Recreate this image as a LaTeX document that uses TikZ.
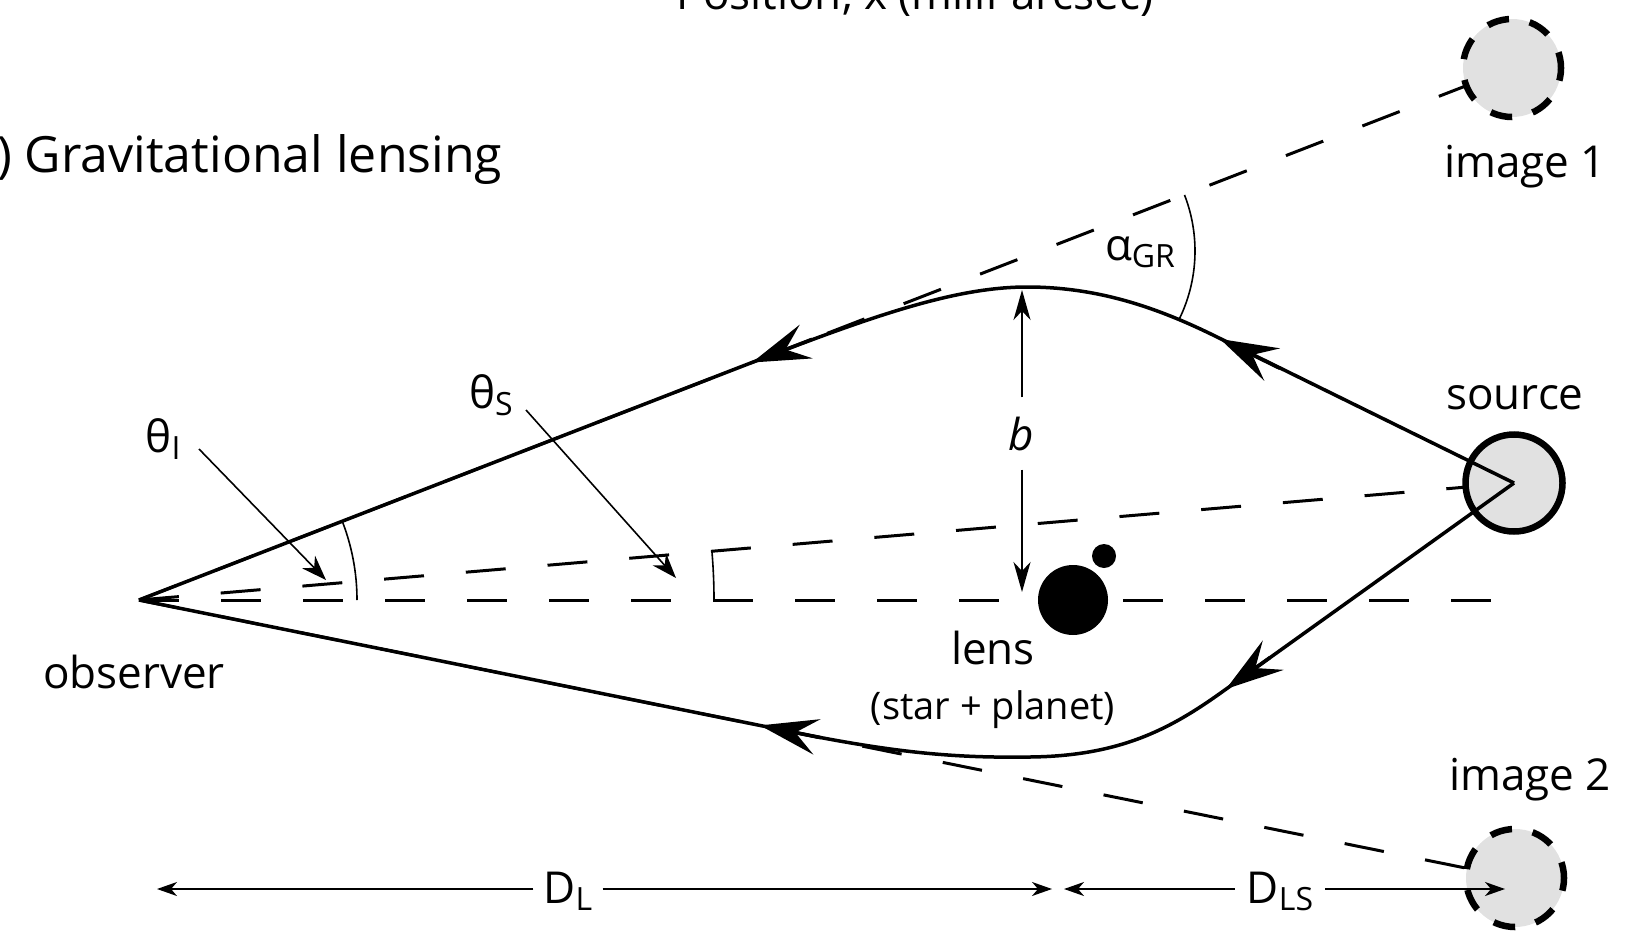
\documentclass[tikz,border=0pt]{standalone}
\usepackage{fontspec}
\setmainfont{Open Sans}
\usetikzlibrary{arrows.meta}
\definecolor{imgfill}{HTML}{E1E1E1}
\newcommand\labfont{\fontsize{44}{52}\selectfont}
\newcommand\smallfont{\fontsize{38}{44}\selectfont}
\newcommand\titlefont{\fontsize{50}{58}\selectfont}
\newcommand\lowsub[1]{\raisebox{-7pt}{\fontsize{32}{36}\selectfont #1}}
\begin{document}
\begin{tikzpicture}[x=1pt,y=-1pt,
  ray/.style={line width=3.5pt, line join=round},
  dashline/.style={line width=3pt, dash pattern=on 40pt off 42pt},
  thinline/.style={line width=1.6pt},
  bigtip/.style={line width=3.5pt, -{Stealth[length=58pt,width=36pt,inset=22pt]}},
  ptrtip/.style={thinline, -{Stealth[length=25pt,width=18pt,inset=8pt]}},
  btip/.style={thinline, -{Stealth[length=30pt,width=17pt,inset=9pt]}},
  dtip/.style={thinline, -{Stealth[length=20pt,width=14pt,inset=6pt]}},
  lab/.style={font=\labfont, inner sep=0pt},
  imgcirc/.style={circle, fill=imgfill, draw, line width=6.5pt, dash pattern=on 22pt off 21pt, dash phase=6pt, minimum size=98pt, inner sep=0pt},
  srccirc/.style={circle, fill=imgfill, draw, line width=6.5pt, minimum size=97pt, inner sep=0pt},
  lensbody/.style={circle, fill=black, inner sep=0pt}]
\useasboundingbox (0,0) rectangle (1635,931);

% key points
\coordinate (O) at (139,600);
\coordinate (axisEnd) at (1498,600);
\coordinate (I1c) at (1512,68);
\coordinate (I2c) at (1515,878);
\coordinate (Sc) at (1514,483);

% dashed sight lines
\draw[dashline] (O) -- (I1c);
\draw[dashline] (O) -- (Sc);
\draw[dashline] (O) -- (axisEnd);
\draw[dashline] (O) -- (I2c);

% images and source
\node[imgcirc] (I1) at (I1c) {};
\node[imgcirc] (I2) at (I2c) {};
\node[srccirc] (S) at (Sc) {};

% lens
\node[lensbody, minimum size=70pt] (lens) at (1073,600) {};
\node[lensbody, minimum size=24pt] (planet) at (1104,556) {};

% light rays
\coordinate (peak) at (1027,287);
\coordinate (trough) at (1030,757);
\draw[ray] (O) -- (700,382.6) .. controls (850,324.5) and (945,287) .. (peak)
  .. controls (1100,287) and (1160,309) .. (1215,336) -- (S.center);
\draw[ray] (O) -- (790,731.5) .. controls (900,754) and (960,758) .. (trough)
  .. controls (1120,756) and (1170,729.2) .. (1222,692) -- (S.center);

% arrowheads on rays
\coordinate (ulB) at (812,339.3); \coordinate (ulT) at (752,362.5);
\coordinate (urB) at (1280,368.4); \coordinate (urT) at (1220,339);
\coordinate (llB) at (820,737.5); \coordinate (llT) at (760,725.4);
\coordinate (lrB) at (1270,657.5); \coordinate (lrT) at (1226,689);
\draw[bigtip] (ulB) -- (ulT);
\draw[bigtip] (urB) -- (urT);
\draw[bigtip] (llB) -- (llT);
\draw[bigtip] (lrB) -- (lrT);

% angle arcs
\draw[thinline] (O) ++(-21.2:218) arc[start angle=-21.2, end angle=0, radius=218];
\draw[thinline] (O) ++(-4.87:575) arc[start angle=-4.87, end angle=0, radius=575];
\coordinate (alphaC) at (1040,251);
\draw[thinline] (alphaC) ++(-21.2:155) arc[start angle=-21.2, end angle=26.1, radius=155];

% labels
\node[lab, anchor=base] (thI) at (163,452) {θ\lowsub{I}};
\node[lab, anchor=base] (thS) at (491,408) {θ\lowsub{S}};
\node[lab, anchor=base] (aGR) at (1140,260) {α\lowsub{GR}};
\coordinate (tIs) at (199,449); \coordinate (tIe) at (326,580);
\coordinate (tSs) at (526,410); \coordinate (tSe) at (676,578);
\draw[ptrtip] (tIs) -- (tIe);
\draw[ptrtip] (tSs) -- (tSe);

% impact parameter b
\node[lab, anchor=base, inner ysep=19pt] (b) at (1021,450) {\itshape b};
\coordinate (bPeak) at (1022,290);
\coordinate (bAxis) at (1022,592);
\draw[btip] (b.north -| bPeak) -- (bPeak);
\draw[btip] (b.south -| bAxis) -- (bAxis);

% text labels
\node[lab, anchor=base] (obsL) at (134,688) {observer};
\node[lab, anchor=base] (lensL) at (993,664) {lens};
\node[font=\smallfont, inner sep=0pt, anchor=base] (lensL2) at (993,719) {(star + planet)};
\node[lab, anchor=base] (srcL) at (1515,409) {source};
\node[lab, anchor=base] (im1L) at (1525,177) {image 1};
\node[lab, anchor=base] (im2L) at (1530,790) {image 2};
\node[font=\titlefont, inner sep=0pt, anchor=base west] (title) at (-3,172) {) Gravitational lensing};
\node[lab, anchor=base] (axisT) at (915,10) {Position, x (milli-arcsec)};

% distances
\node[lab, anchor=base, inner xsep=10pt] (DL) at (568,903) {D\lowsub{L}};
\node[lab, anchor=base, inner xsep=12pt] (DLS) at (1280,903) {D\lowsub{LS}};
\coordinate (dlL) at (157,889); \coordinate (dlR) at (1052,889);
\coordinate (dlsL) at (1064,889); \coordinate (dlsR) at (1505,889);
\draw[dtip] (DL.west |- dlL) -- (dlL);
\draw[dtip] (DL.east |- dlR) -- (dlR);
\draw[dtip] (DLS.west |- dlsL) -- (dlsL);
\draw[dtip] (DLS.east |- dlsR) -- (dlsR);
\end{tikzpicture}
\end{document}
